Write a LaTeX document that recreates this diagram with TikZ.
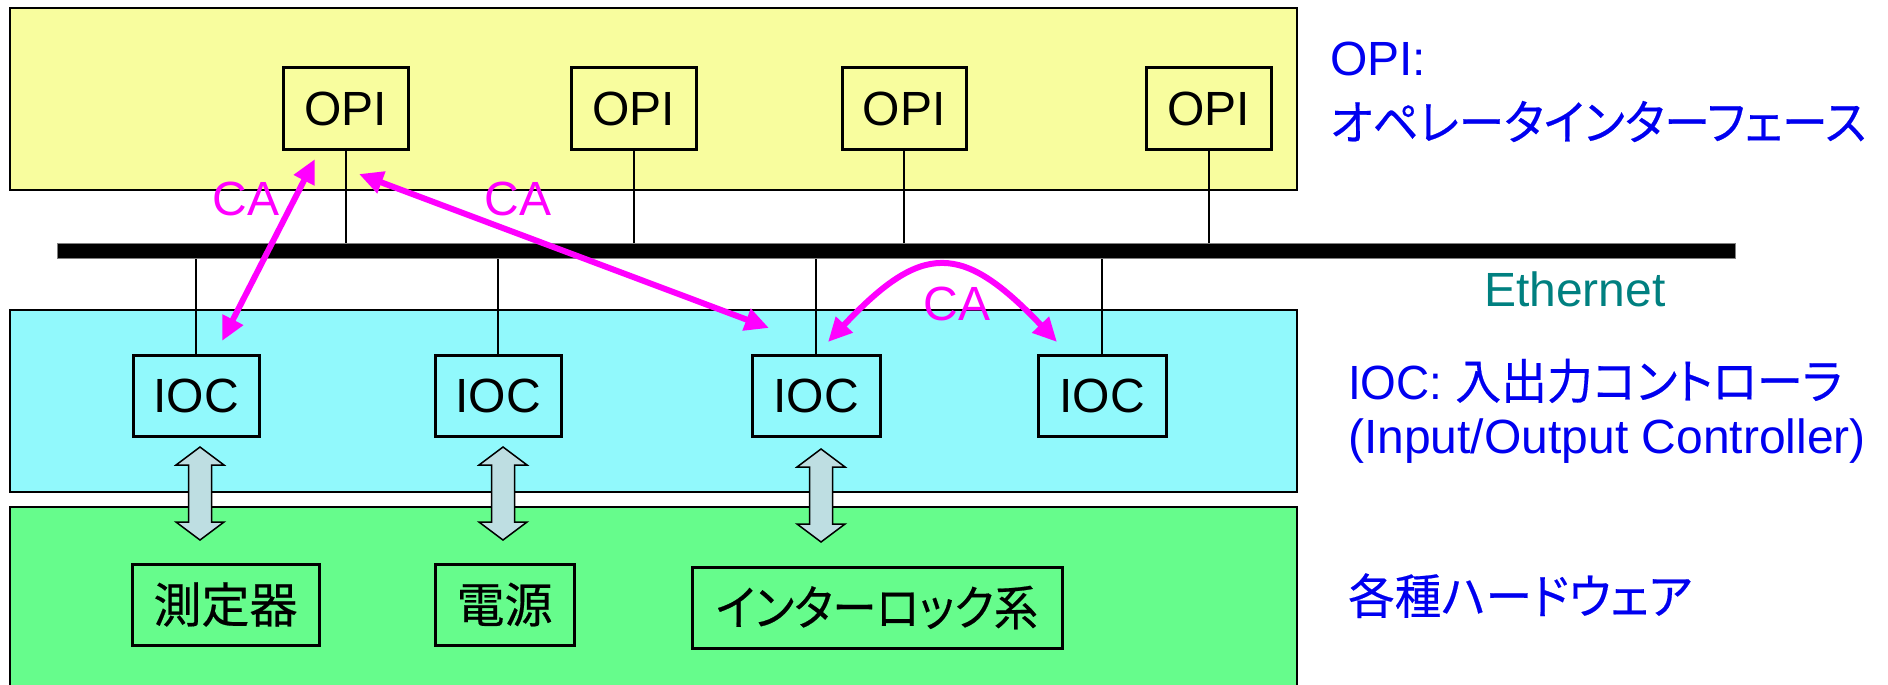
\documentclass[tikz,border=0pt]{standalone}
\usepackage{fontspec}
\usepackage{graphicx}
\setmainfont{Liberation Sans}
\newfontfamily\jpfont{Noto Sans CJK JP}[RawFeature=+palt, FakeBold=0.4]
\usetikzlibrary{arrows.meta}

\definecolor{opiyellow}{RGB}{248,253,158}
\definecolor{ioccyan}{RGB}{145,249,252}
\definecolor{hwgreen}{RGB}{102,252,140}
\definecolor{linkfill}{RGB}{190,222,226}
\definecolor{labelblue}{RGB}{0,0,240}
\definecolor{ethteal}{RGB}{0,128,128}
\definecolor{camagenta}{RGB}{255,0,255}

% double-headed block arrow between an IOC and its hardware, #1 = top tip
\newcommand\iolink[1]{%
  \draw[iolinkshape] (#1) -- ++(24,18) -- ++(-12.5,0) -- ++(0,57) -- ++(12.5,0)
    -- ++(-24,18) -- ++(-24,-18) -- ++(12.5,0) -- ++(0,-57) -- ++(-12.5,0) -- cycle;}
% set a line to a given width, keeping its height
\newcommand\fitwidth[2]{\resizebox{#1}{\height}{#2}}

\begin{document}
\begin{tikzpicture}[x=1pt,y=-1pt,
  band/.style={draw=black, line width=1.5pt},
  unit/.style={draw=black, line width=3pt, inner sep=0,
    font=\fontsize{48}{56}\selectfont},
  jpunit/.style={unit, font=\jpfont\fontsize{48}{56}\selectfont},
  tap/.style={draw=black, line width=2pt},
  ca/.style={draw=camagenta, line width=6pt,
    {Triangle[length=24pt,width=22pt]}-{Triangle[length=24pt,width=22pt]}},
  calabel/.style={text=camagenta, inner sep=0, font=\fontsize{48}{56}\selectfont},
  side/.style={text=labelblue, anchor=base west, inner sep=0,
    font=\fontsize{48}{56}\selectfont},
  iolinkshape/.style={draw=black, line width=1.5pt, fill=linkfill, line join=miter},
]
\useasboundingbox (0,0) rectangle (1888,685);
\fill[white] (0,0) rectangle (1888,685);

% layer bands
\draw[band, fill=opiyellow] (10,8) rectangle (1297,190);
\draw[band, fill=ioccyan] (10,310) rectangle (1297,492);
\fill[hwgreen] (10,507) rectangle (1297,685);
\draw[band] (10,686) -- (10,507) -- (1297,507) -- (1297,686);

% Ethernet backbone
\node[fill=black, draw=gray, line width=1pt, inner sep=0,
  minimum width=1678, minimum height=15] (bar) at (896,250.5) {};

% operator interfaces
\node[unit, fill=opiyellow, minimum width=125, minimum height=81] (opi1) at (345.5,108.5) {OPI};
\node[unit, fill=opiyellow, minimum width=125, minimum height=81] (opi2) at (633.5,108.5) {OPI};
\node[unit, fill=opiyellow, minimum width=124, minimum height=81] (opi3) at (904,108.5) {OPI};
\node[unit, fill=opiyellow, minimum width=125, minimum height=81] (opi4) at (1208.5,108.5) {OPI};

% input/output controllers
\node[unit, fill=ioccyan, minimum width=126, minimum height=81] (ioc1) at (196,395.5) {IOC};
\node[unit, fill=ioccyan, minimum width=126, minimum height=81] (ioc2) at (498,395.5) {IOC};
\node[unit, fill=ioccyan, minimum width=128, minimum height=81] (ioc3) at (816,395.5) {IOC};
\node[unit, fill=ioccyan, minimum width=128, minimum height=81] (ioc4) at (1102,395.5) {IOC};

% hardware
\node[jpunit, fill=hwgreen, minimum width=187, minimum height=81] (hw1) at (225.5,604.5) {測定器};
\node[jpunit, fill=hwgreen, minimum width=139, minimum height=81] (hw2) at (504.5,604.5) {電源};
\node[jpunit, fill=hwgreen, minimum width=370, minimum height=81] (hw3) at (877,607.5)
  {\fitwidth{322pt}{インターロック系}};

% network taps
\foreach \n in {opi1,opi2,opi3,opi4}
  \draw[tap] (\n.south) -- (\n.south |- bar.north);
\foreach \n in {ioc1,ioc2,ioc3,ioc4}
  \draw[tap] (\n.north) -- (\n.north |- bar.south);

% IOC <-> hardware links
\coordinate (lk1) at (200,447);
\coordinate (lk2) at (503,447);
\coordinate (lk3) at (821,449);
\iolink{lk1}
\iolink{lk2}
\iolink{lk3}

% Channel Access connections
\coordinate (ca1a) at (315,159);
\coordinate (ca1b) at (222,341);
\coordinate (ca2a) at (359,174);
\coordinate (ca2b) at (769,328);
\coordinate (ca3a) at (828,342);
\coordinate (ca3b) at (1057,342);
\draw[ca] (ca1a) -- (ca1b);
\draw[ca] (ca2a) -- (ca2b);
\draw[ca] (ca3a) .. controls (922,242) and (962,242) .. (ca3b);
\node[calabel] (cal1) at (246,199) {CA};
\node[calabel] (cal2) at (518,199) {CA};
\node[calabel] (cal3) at (957,304) {CA};

% legend
\node[side] (lopi) at (1330,76) {OPI:};
\node[side] (lopijp) at (1330,140) {\fitwidth{536pt}{\jpfont オペレータインターフェース}};
\node[side, text=ethteal] (leth) at (1484,306) {Ethernet};
\node[side] (lioc) at (1348,399) {\fitwidth{494pt}{IOC: {\jpfont 入出力コントローラ}}};
\node[side] (lioc2) at (1348,453) {(Input/Output Controller)};
\node[side] (lhw) at (1348,614) {\fitwidth{344pt}{\jpfont 各種ハードウェア}};
\end{tikzpicture}
\end{document}
